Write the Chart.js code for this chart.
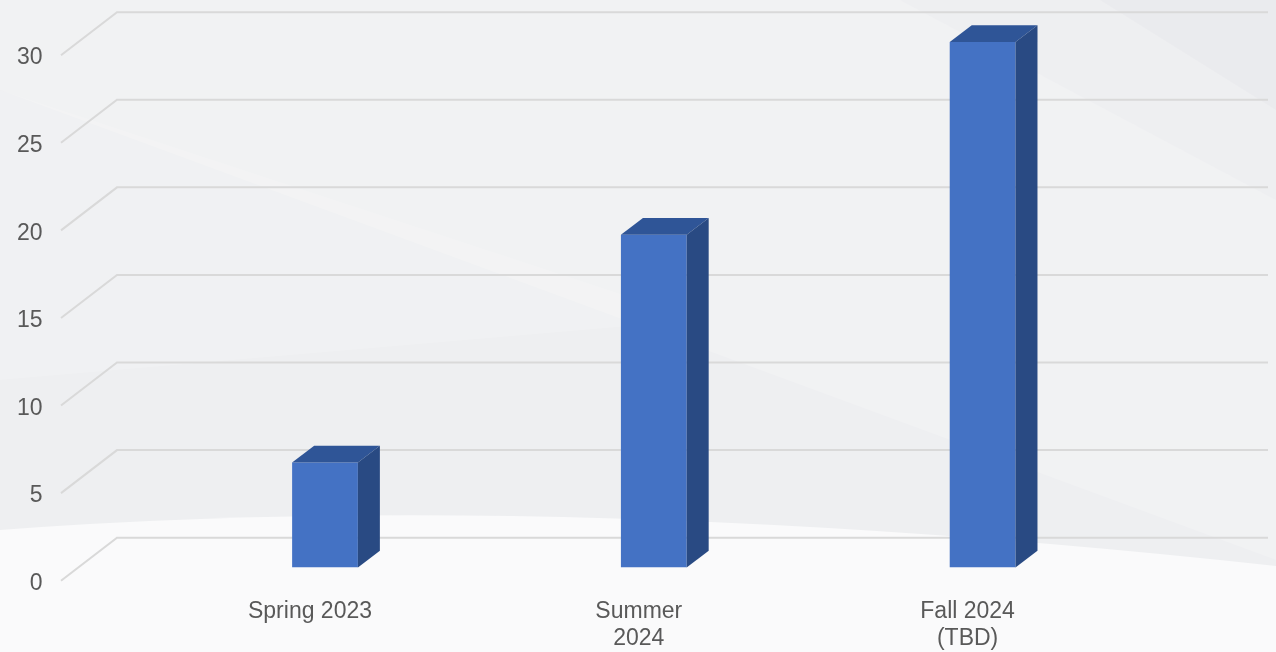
<!DOCTYPE html>
<html>
<head>
<meta charset="utf-8">
<script src="https://cdn.jsdelivr.net/npm/chart.js@4/dist/chart.umd.min.js"></script>
<style>
  html, body { margin: 0; padding: 0; background: #f0f1f3; }
  #wrap { width: 1276px; height: 652px; position: relative; }
</style>
</head>
<body>
<div id="wrap"><canvas id="c" width="1276" height="652"></canvas></div>
<script>
// ---- data ----
const categories = ['Spring 2023', ['Summer', '2024'], ['Fall 2024', '(TBD)']];
const values = [6, 19, 30];
const yTickValues = [0, 5, 10, 15, 20, 25, 30];

// ---- 3D geometry (style) ----
const DEPTH_DX = 22, DEPTH_DY = 16.7;
const FRONT_COLOR = '#4472C4', TOP_COLOR = '#2F5597', SIDE_COLOR = '#294A83';

const backgroundPlugin = {
  id: 'bg',
  beforeDraw(chart) {
    const ctx = chart.ctx, W = chart.width, H = chart.height;
    ctx.save();
    ctx.fillStyle = '#eeeff1';
    ctx.fillRect(0, 0, W, H);
    // soft lighter diagonal bands
    ctx.fillStyle = 'rgba(255,255,255,0.18)';
    ctx.beginPath();
    ctx.moveTo(0, 0); ctx.lineTo(900, 0); ctx.lineTo(1276, 200); ctx.lineTo(1276, 560);
    ctx.lineTo(0, 90); ctx.closePath(); ctx.fill();
    ctx.fillStyle = 'rgba(255,255,255,0.14)';
    ctx.beginPath();
    ctx.moveTo(0, 90); ctx.lineTo(700, 320); ctx.lineTo(0, 380); ctx.closePath(); ctx.fill();
    ctx.fillStyle = 'rgba(225,226,231,0.30)';
    ctx.beginPath();
    ctx.moveTo(1100, 0); ctx.lineTo(1276, 0); ctx.lineTo(1276, 110); ctx.closePath(); ctx.fill();
    // white bottom region
    ctx.fillStyle = '#fafafb';
    ctx.beginPath();
    ctx.moveTo(0, 530);
    ctx.quadraticCurveTo(560, 488, 1276, 566);
    ctx.lineTo(1276, H); ctx.lineTo(0, H); ctx.closePath(); ctx.fill();
    ctx.restore();
  }
};

const gridPlugin = {
  id: 'grid3d',
  beforeDatasetsDraw(chart) {
    const ctx = chart.ctx, y = chart.scales.y;
    ctx.save();
    ctx.strokeStyle = '#d9d9d9';
    ctx.lineWidth = 2;
    yTickValues.forEach(v => {
      const yb = y.getPixelForValue(v);
      ctx.beginPath();
      ctx.moveTo(61, yb + 13.2);
      ctx.lineTo(117, yb - 29.8);
      ctx.lineTo(1268, yb - 29.8);
      ctx.stroke();
    });
    ctx.restore();
  }
};

const bar3dPlugin = {
  id: 'bar3d',
  afterDatasetsDraw(chart) {
    const ctx = chart.ctx;
    const meta = chart.getDatasetMeta(0);
    ctx.save();
    meta.data.forEach(el => {
      const p = el.getProps(['x', 'y', 'base', 'width'], true);
      const l = p.x - p.width / 2, r = p.x + p.width / 2, t = p.y, b = p.base;
      ctx.fillStyle = TOP_COLOR;
      ctx.beginPath();
      ctx.moveTo(l, t); ctx.lineTo(l + DEPTH_DX, t - DEPTH_DY);
      ctx.lineTo(r + DEPTH_DX, t - DEPTH_DY); ctx.lineTo(r, t); ctx.closePath(); ctx.fill();
      ctx.fillStyle = SIDE_COLOR;
      ctx.beginPath();
      ctx.moveTo(r, t); ctx.lineTo(r + DEPTH_DX, t - DEPTH_DY);
      ctx.lineTo(r + DEPTH_DX, b - DEPTH_DY); ctx.lineTo(r, b); ctx.closePath(); ctx.fill();
    });
    ctx.restore();
  }
};

const font = { family: "'Liberation Sans', Arial, sans-serif", size: 23 };

new Chart(document.getElementById('c'), {
  type: 'bar',
  data: {
    labels: categories,
    datasets: [{
      data: values,
      backgroundColor: FRONT_COLOR,
      borderWidth: 0,
      barPercentage: 0.2,
      categoryPercentage: 1.0
    }]
  },
  options: {
    responsive: false,
    animation: false,
    events: [],
    layout: { padding: { left: 0, right: 129, top: 42, bottom: 0 } },
    plugins: { legend: { display: false }, tooltip: { enabled: false } },
    scales: {
      x: {
        grid: { display: false, drawTicks: false },
        border: { display: false },
        ticks: {
          color: '#595959', font: font, padding: 30, labelOffset: -15,
          maxRotation: 0, minRotation: 0, autoSkip: false
        },
        afterFit(s) { s.height = 84.5; s.paddingLeft = 0; s.paddingRight = 0; }
      },
      y: {
        min: 0, max: 30,
        grid: { display: false, drawTicks: false },
        border: { display: false },
        afterBuildTicks(s) { s.ticks = yTickValues.map(v => ({ value: v })); },
        ticks: { color: '#595959', font: font, padding: 118, labelOffset: 16 },
        afterFit(s) { s.width = 160.6; s.paddingTop = 0; s.paddingBottom = 0; }
      }
    }
  },
  plugins: [backgroundPlugin, gridPlugin, bar3dPlugin]
});
</script>
</body>
</html>
